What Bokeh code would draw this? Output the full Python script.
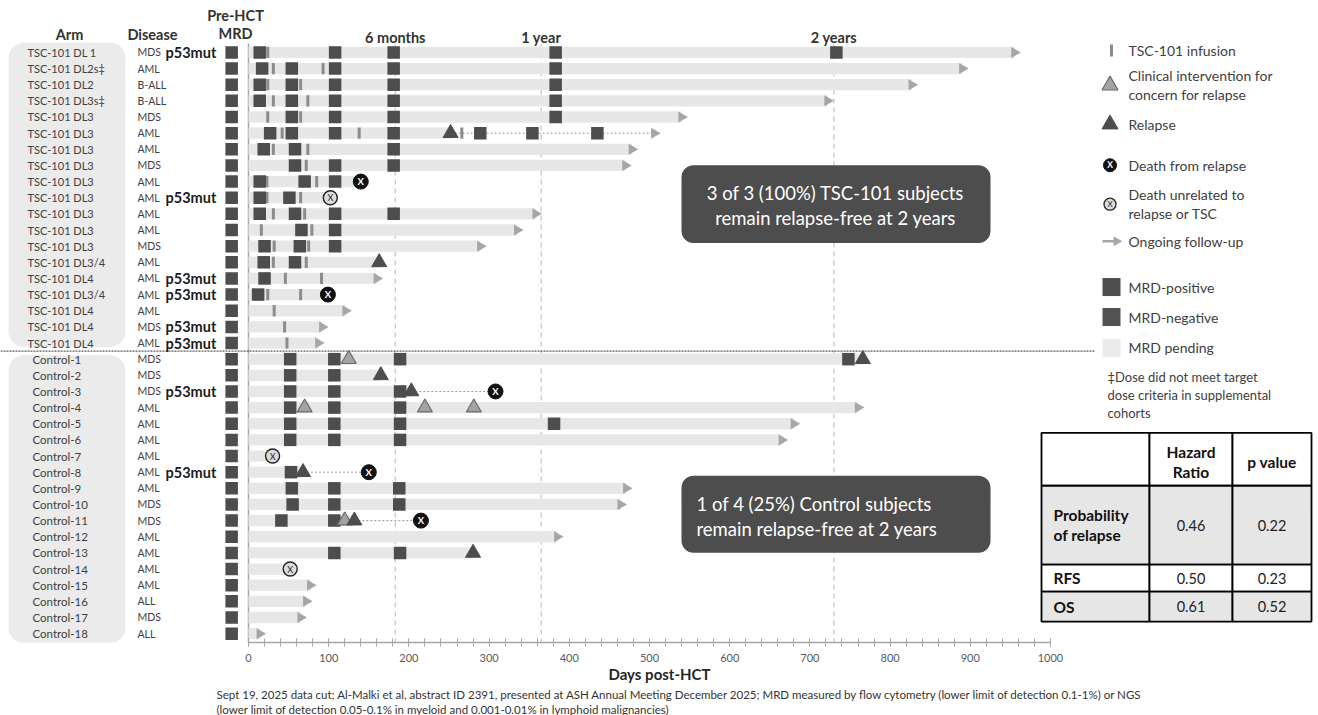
import math
from bokeh.plotting import figure
from bokeh.models import Range1d, BoxAnnotation, Label, SingleIntervalTicker, Title
from bokeh.core.properties import value
from bokeh.embed import file_html
from bokeh.resources import INLINE

# ---------------- data ----------------
arms = ["TSC-101 DL 1", "TSC-101 DL2s‡", "TSC-101 DL2", "TSC-101 DL3s‡", "TSC-101 DL3",
        "TSC-101 DL3", "TSC-101 DL3", "TSC-101 DL3", "TSC-101 DL3", "TSC-101 DL3",
        "TSC-101 DL3", "TSC-101 DL3", "TSC-101 DL3", "TSC-101 DL3/4", "TSC-101 DL4",
        "TSC-101 DL3/4", "TSC-101 DL4", "TSC-101 DL4", "TSC-101 DL4",
        "Control-1", "Control-2", "Control-3", "Control-4", "Control-5", "Control-6",
        "Control-7", "Control-8", "Control-9", "Control-10", "Control-11", "Control-12",
        "Control-13", "Control-14", "Control-15", "Control-16", "Control-17", "Control-18"]
diseases = ["MDS", "AML", "B-ALL", "B-ALL", "MDS", "AML", "AML", "MDS", "AML", "AML",
            "AML", "AML", "MDS", "AML", "AML", "AML", "AML", "MDS", "AML",
            "MDS", "MDS", "MDS", "AML", "AML", "AML", "AML", "AML", "AML", "MDS",
            "MDS", "AML", "AML", "AML", "AML", "ALL", "MDS", "ALL"]
p53mut = [1, 0, 0, 0, 0, 0, 0, 0, 0, 1, 0, 0, 0, 0, 1, 1, 0, 1, 1,
          0, 0, 1, 0, 0, 0, 0, 1, 0, 0, 0, 0, 0, 0, 0, 0, 0, 0]
n_tsc = 19

# light bar (follow-up before any relapse) end, and end of total follow-up (days)
bar_end = [955, 890, 827, 722, 540, 252, 478, 470, 138, 100, 358, 335, 289, 163, 160, 97, 121, 92, 87,
           766, 165, 203, 760, 680, 665, 28, 68, 471, 464, 132, 385, 280, 50, 77, 72, 65, 14]
follow_end = [955, 890, 827, 722, 540, 506, 478, 470, 138, 100, 358, 335, 289, 163, 160, 97, 121, 92, 87,
              766, 165, 308, 760, 680, 665, 28, 150, 471, 464, 215, 385, 280, 50, 77, 72, 65, 14]
ongoing = [1, 1, 1, 1, 1, 1, 1, 1, 0, 0, 1, 1, 1, 0, 1, 0, 1, 1, 1,
           0, 0, 0, 1, 1, 1, 0, 0, 1, 1, 0, 1, 0, 0, 1, 1, 1, 1]

pre_hct_day = -21
mrd_days = [
    [14, 108, 181, 383, 733], [17, 54, 108, 181, 383], [14, 54, 108, 181, 383],
    [14, 54, 108, 181, 383], [54, 108, 181, 383], [27, 54, 108, 181, 289, 354, 435],
    [19, 58, 181], [58, 108, 181], [14, 70, 108], [14, 51], [14, 58, 108, 181],
    [66, 108], [20, 64, 108], [19, 58], [20], [12], [], [], [],
    [52, 107, 189, 748], [52, 107], [52, 107, 189], [52, 107, 189], [52, 107, 189, 381],
    [52, 107, 189], [], [53], [54, 107, 188], [55, 107, 188], [41, 107], [],
    [107, 189], [], [], [], [], []]
infusion_days = [
    [24], [31, 93], [24, 65], [31, 74], [24, 65], [42, 138, 266], [31, 74], [72],
    [23, 85], [23, 65], [31, 70], [16, 79], [32, 75], [31, 72], [46, 91], [24, 65],
    [32], [45], [48]]
clinical_rows = [19, 22, 22, 22, 29]
clinical_days = [125, 70, 220, 281, 120]
relapse_rows = [5, 13, 19, 20, 21, 26, 29, 31]
relapse_days = [252, 163, 766, 165, 203, 68, 132, 280]
death_relapse_rows = [8, 15, 21, 26, 29]
death_relapse_days = [140, 99, 308, 150, 215]
death_other_rows = [9, 25, 32]
death_other_days = [102, 30, 52]

milestone_days = [183, 365, 730]
milestone_labels = ["6 months", "1 year", "2 years"]
axis_ticks = [0, 100, 200, 300, 400, 500, 600, 700, 800, 900, 1000]

table_metrics = ["Probability\nof relapse", "RFS", "OS"]
hazard_ratio = [0.46, 0.50, 0.61]
p_values = [0.22, 0.23, 0.52]

legend_items = ["TSC-101 infusion", "Clinical intervention for\nconcern for relapse", "Relapse",
                "Death from relapse", "Death unrelated to\nrelapse or TSC", "Ongoing follow-up",
                "MRD-positive", "MRD-negative", "MRD pending"]
footnote_dose = ["‡Dose did not meet target", "dose criteria in supplemental", "cohorts"]
box_tsc = ["3 of 3 (100%) TSC-101 subjects", "remain relapse-free at 2 years"]
box_ctrl = ["1 of 4 (25%) Control subjects", "remain relapse-free at 2 years"]
footnote = ["Sept 19, 2025 data cut; Al-Malki et al, abstract ID 2391, presented at ASH Annual Meeting December 2025; MRD measured by flow cytometry (lower limit of detection 0.1-1%) or NGS",
            "(lower limit of detection 0.05-0.1% in myeloid and 0.001-0.01% in lymphoid malignancies)"]

# ---------------- geometry helpers (page pixels -> data) ----------------
W, H = 1318, 715
X0, KX = 248.0, 0.802
Y0, KY = 52.0, 16.17
AXIS_PY = 643


def dx(px):
    return (px - X0) / KX


def dy(py):
    return (py - Y0) / KY


FONT = "Lato"
DARK = "#4d4d4d"
LIGHT = "#e7e7e7"
INF = "#8c8c8c"
TXT = "#404040"

p = figure(width=W, height=H, x_range=Range1d(dx(0), dx(W)),
           y_range=Range1d(dy(AXIS_PY), dy(0)), output_backend="svg",
           toolbar_location=None, title_location=None, y_axis_location=None,
           min_border_left=0, min_border_right=0, min_border_top=0,
           min_border_bottom=H - AXIS_PY, outline_line_color=None,
           background_fill_color="white", border_fill_color="white")
p.grid.visible = False

ax = p.xaxis[0]
ax.bounds = (axis_ticks[0], axis_ticks[-1])
ax.ticker = SingleIntervalTicker(interval=100, num_minor_ticks=5)
ax.axis_line_color = "#a6a6a6"
ax.axis_line_width = 1.3
ax.major_tick_line_color = "#a6a6a6"
ax.minor_tick_line_color = "#a6a6a6"
ax.major_tick_in = 4
ax.major_tick_out = 4
ax.minor_tick_in = 4
ax.minor_tick_out = 4
ax.major_label_text_font = FONT
ax.major_label_text_font_size = "11px"
ax.major_label_text_color = "#595959"
ax.major_label_standoff = 7
ax.axis_label = "Days post-HCT"
ax.axis_label_text_font = FONT
ax.axis_label_text_font_size = "15px"
ax.axis_label_text_font_style = "bold"
ax.axis_label_text_color = "#262626"
ax.axis_label_standoff = 0

for t in footnote:
    p.add_layout(Title(text=t, align="left", offset=216, standoff=0, text_font=FONT,
                       text_font_size="11.5px", text_font_style="normal",
                       text_color="#333333"), "below")

rows = list(range(len(arms)))

# arm label background boxes
p.add_layout(BoxAnnotation(left=dx(8), right=dx(125), top=dy(42), bottom=dy(347),
                           fill_color="#ebebeb", fill_alpha=1, line_color=None,
                           border_radius=16, level="underlay"))
p.add_layout(BoxAnnotation(left=dx(8), right=dx(125), top=dy(355), bottom=dy(644),
                           fill_color="#ebebeb", fill_alpha=1, line_color=None,
                           border_radius=16, level="underlay"))

# milestone dashed lines
p.segment(x0=milestone_days, x1=milestone_days, y0=dy(44), y1=dy(AXIS_PY),
          line_color="#c8c8c8", line_width=1.3, line_dash="5 4")
# day-0 line
p.segment(x0=[0], x1=[0], y0=[dy(43)], y1=[dy(AXIS_PY)], line_color="#a6a6a6", line_width=1.5)

# light bars
p.hbar(y=rows, left=0, right=bar_end, height=11.3 / KY, fill_color=LIGHT, line_color=None)

# dotted follow-up after relapse
dot_rows = [i for i in rows if follow_end[i] > bar_end[i]]
p.segment(x0=[bar_end[i] for i in dot_rows], x1=[follow_end[i] for i in dot_rows],
          y0=dot_rows, y1=dot_rows, line_color="#9a9a9a", line_width=1, line_dash="2 2")

# separator
p.segment(x0=[dx(0)], x1=[dx(1095)], y0=[n_tsc - 0.5], y1=[n_tsc - 0.5],
          line_color="#333333", line_width=1, line_dash="2 1")

# infusion ticks
ix, iy = [], []
for i, L in enumerate(infusion_days):
    for d in L:
        ix.append(d)
        iy.append(i)
p.rect(x=ix, y=iy, width=3, height=11.3, width_units="screen", height_units="screen",
       fill_color=INF, line_color=None)

# MRD squares
mx, my = [], []
for i, L in enumerate(mrd_days):
    for d in L:
        mx.append(d)
        my.append(i)
p.scatter(x=mx, y=my, marker="square", size=12.5, fill_color=DARK, line_color=None)
p.scatter(x=[pre_hct_day] * len(rows), y=rows, marker="square", size=12.5,
          fill_color=DARK, line_color=None)

# ongoing arrows
arr_rows = [i for i in rows if ongoing[i]]
p.scatter(x=[follow_end[i] for i in arr_rows], y=arr_rows, marker="triangle", size=11,
          angle=-math.pi / 2, fill_color="#a6a6a6", line_color=None)

# clinical interventions & relapses
p.scatter(x=clinical_days, y=clinical_rows, marker="triangle", size=15,
          fill_color="#a3a3a3", line_color="#6b6b6b", line_width=1.2)
p.scatter(x=relapse_days, y=relapse_rows, marker="triangle", size=15,
          fill_color=DARK, line_color=DARK)

# deaths
p.scatter(x=death_relapse_days, y=death_relapse_rows, marker="circle", size=15,
          fill_color="#111111", line_color="#111111")
p.text(x=death_relapse_days, y=death_relapse_rows, text=["X"] * len(death_relapse_days),
       text_align="center", text_baseline="middle", text_font=value(FONT),
       text_font_size="9.5px", text_font_style="bold", text_color="white")
p.scatter(x=death_other_days, y=death_other_rows, marker="circle", size=14,
          fill_color="#dcdcdc", line_color="#222222", line_width=1.4)
p.text(x=death_other_days, y=death_other_rows, text=["X"] * len(death_other_days),
       text_align="center", text_baseline="middle", text_font=value(FONT),
       text_font_size="9px", text_color="#222222")

# row labels
p.text(x=dx(27), y=rows[:n_tsc], text=arms[:n_tsc], text_align="left", text_baseline="middle",
       text_font=value(FONT), text_font_size="11px", text_color=TXT)
p.text(x=dx(32), y=rows[n_tsc:], text=arms[n_tsc:], text_align="left", text_baseline="middle",
       text_font=value(FONT), text_font_size="11.5px", text_color=TXT)
p.text(x=dx(137), y=rows, text=diseases, text_align="left", text_baseline="middle",
       text_font=value(FONT), text_font_size="10.5px", text_color=TXT)
p53_rows = [i for i in rows if p53mut[i]]
p.text(x=dx(165), y=p53_rows, text=["p53mut"] * len(p53_rows), text_align="left",
       text_baseline="middle", text_font=value(FONT), text_font_size="14.5px",
       text_font_style="bold", text_color="#1a1a1a")

# headers
hdr = dict(text_baseline="middle", text_align="center", text_font=value(FONT),
           text_font_size="14.5px", text_font_style="bold", text_color="#333333")
p.text(x=[dx(69), dx(152), dx(235), dx(235)], y=[dy(34), dy(34), dy(15), dy(33)],
       text=["Arm", "Disease", "Pre-HCT", "MRD"], **hdr)
p.text(x=milestone_days, y=[dy(37)] * 3, text=milestone_labels, **hdr)

# legend
LX, LT = dx(1111), dx(1128)
leg_y = [50, 85, 124, 165, 204, 241, 287, 317, 348]
txt_lines_x, txt_lines_y, txt_lines = [], [], []
for item, yy in zip(legend_items, leg_y):
    parts = item.split("\n")
    if len(parts) == 1:
        txt_lines.append(parts[0]); txt_lines_y.append(dy(yy)); txt_lines_x.append(LT)
    else:
        txt_lines.append(parts[0]); txt_lines_y.append(dy(yy - 9.5)); txt_lines_x.append(LT)
        txt_lines.append(parts[1]); txt_lines_y.append(dy(yy + 9.5)); txt_lines_x.append(LT)
p.text(x=txt_lines_x, y=txt_lines_y, text=txt_lines, text_align="left", text_baseline="middle",
       text_font=value(FONT), text_font_size="14px", text_color=TXT)
p.rect(x=[LX], y=[dy(leg_y[0])], width=3, height=12, width_units="screen",
       height_units="screen", fill_color=INF, line_color=None)
p.scatter(x=[LX - 1.5 / KX], y=[dy(leg_y[1])], marker="triangle", size=16,
          fill_color="#a3a3a3", line_color="#6b6b6b", line_width=1.2)
p.scatter(x=[LX - 1.5 / KX], y=[dy(leg_y[2])], marker="triangle", size=16,
          fill_color=DARK, line_color=DARK)
p.scatter(x=[LX - 1.5 / KX], y=[dy(leg_y[3])], marker="circle", size=13,
          fill_color="#111111", line_color="#111111")
p.text(x=[LX - 1.5 / KX], y=[dy(leg_y[3])], text=["X"], text_align="center",
       text_baseline="middle", text_font=value(FONT), text_font_size="8.5px",
       text_font_style="bold", text_color="white")
p.scatter(x=[LX - 1.5 / KX], y=[dy(leg_y[4])], marker="circle", size=12,
          fill_color="#dcdcdc", line_color="#222222", line_width=1.3)
p.text(x=[LX - 1.5 / KX], y=[dy(leg_y[4])], text=["X"], text_align="center",
       text_baseline="middle", text_font=value(FONT), text_font_size="8px", text_color="#222222")
p.segment(x0=[dx(1102)], x1=[dx(1115)], y0=[dy(leg_y[5])], y1=[dy(leg_y[5])],
          line_color="#a6a6a6", line_width=2.5)
p.scatter(x=[dx(1116)], y=[dy(leg_y[5])], marker="triangle", size=10, angle=-math.pi / 2,
          fill_color="#a6a6a6", line_color=None)
p.scatter(x=[LX, LX, LX], y=[dy(leg_y[6]), dy(leg_y[7]), dy(leg_y[8])], marker="square",
          size=18, fill_color=[DARK, "#525252", "#ebebeb"], line_color=None)
p.text(x=[dx(1107)] * 3, y=[dy(377), dy(395), dy(413)], text=footnote_dose, text_align="left",
       text_baseline="middle", text_font=value(FONT), text_font_size="13px", text_color=TXT)

# table
col_px = [1041, 1149, 1232, 1311]
row_px = [433, 486, 565, 592, 622]
row_fill = ["white", "#e6e6e6", "white", "#e6e6e6"]
ql, qr, qt, qb, qf = [], [], [], [], []
for r in range(4):
    for c in range(3):
        ql.append(dx(col_px[c])); qr.append(dx(col_px[c + 1]))
        qt.append(dy(row_px[r])); qb.append(dy(row_px[r + 1])); qf.append(row_fill[r])
p.quad(left=ql, right=qr, top=qt, bottom=qb, fill_color=qf, line_color="black", line_width=1.8)
cc1 = (col_px[1] + col_px[2]) / 2
cc2 = (col_px[2] + col_px[3]) / 2
bold_tbl = dict(text_baseline="middle", text_font=value(FONT), text_font_size="15.5px",
                text_font_style="bold", text_color="#111111")
p.text(x=[dx(cc1), dx(cc1), dx(cc2)], y=[dy(452), dy(472), dy(462)],
       text=["Hazard", "Ratio", "p value"], text_align="center", **bold_tbl)
lab_x, lab_y, lab_t = [], [], []
for r, m in enumerate(table_metrics):
    cy = (row_px[r + 1] + row_px[r + 2]) / 2
    parts = m.split("\n")
    if len(parts) == 1:
        lab_t.append(m); lab_y.append(dy(cy)); lab_x.append(dx(1053))
    else:
        lab_t += parts; lab_y += [dy(cy - 10), dy(cy + 10)]; lab_x += [dx(1053), dx(1053)]
p.text(x=lab_x, y=lab_y, text=lab_t, text_align="left", **bold_tbl)
val_y = [dy((row_px[r + 1] + row_px[r + 2]) / 2) for r in range(3)]
p.text(x=[dx(cc1)] * 3 + [dx(cc2)] * 3, y=val_y + val_y,
       text=["%.2f" % v for v in hazard_ratio] + ["%.2f" % v for v in p_values],
       text_align="center", text_baseline="middle", text_font=value(FONT),
       text_font_size="14.5px", text_color="#222222")

# summary boxes
p.add_layout(BoxAnnotation(left=dx(681), right=dx(990), top=dy(165), bottom=dy(243),
                           fill_color=DARK, fill_alpha=1, line_color=None, border_radius=12))
p.add_layout(BoxAnnotation(left=dx(681), right=dx(990), top=dy(476), bottom=dy(553),
                           fill_color=DARK, fill_alpha=1, line_color=None, border_radius=12))
for t, yy in zip(box_tsc, [193, 218]):
    p.add_layout(Label(x=dx(835), y=dy(yy), text=t, text_align="center", text_baseline="middle",
                       text_font=FONT, text_font_size="18.5px", text_color="white"))
for t, yy in zip(box_ctrl, [504, 529]):
    p.add_layout(Label(x=dx(696), y=dy(yy), text=t, text_align="left", text_baseline="middle",
                       text_font=FONT, text_font_size="18.5px", text_color="white"))

open("out.html", "w").write(file_html(p, INLINE))
